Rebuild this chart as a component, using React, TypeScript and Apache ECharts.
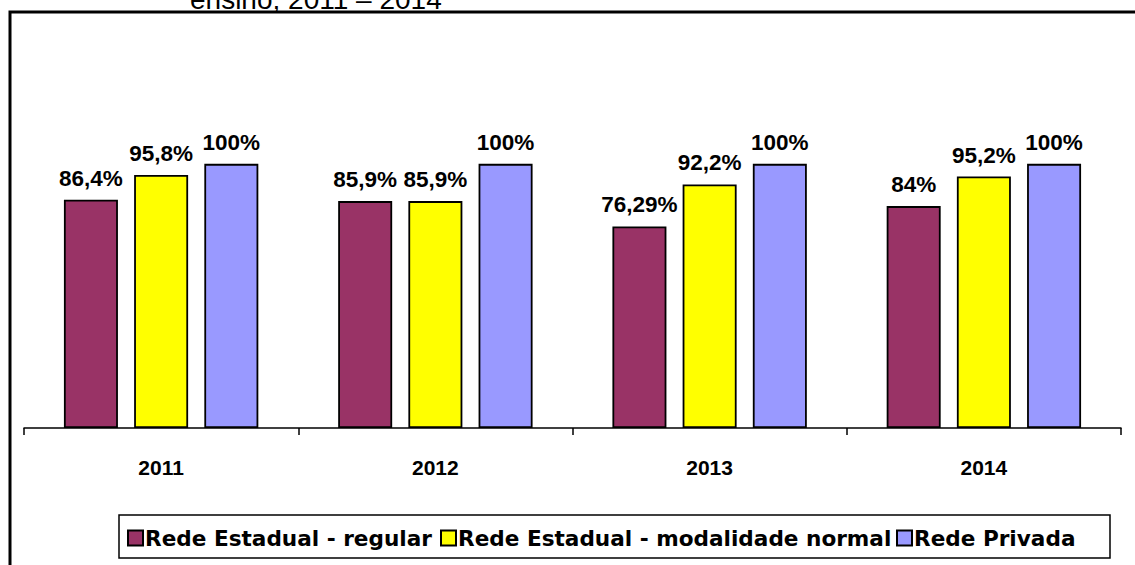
import React, { useEffect, useRef } from "react";
import * as echarts from "echarts";

const categories = ["2011", "2012", "2013", "2014"];
const seriesNames = ["Rede Estadual - regular", "Rede Estadual - modalidade normal", "Rede Privada"];
const regular = [86.4, 85.9, 76.29, 84];
const normal = [95.8, 85.9, 92.2, 95.2];
const privada = [100, 100, 100, 100];
const colors = ["#993366", "#FFFF00", "#9999FF"];
const titleText = "ensino, 2011 – 2014";

const fmt = (v: number) => String(v).replace(".", ",") + "%";
const FONT = "Liberation Sans, Arial, sans-serif";
const WIDE = "DejaVu Sans, Liberation Sans, sans-serif";
const legendLefts = [127, 440, 896];

export default function App() {
  const ref = useRef<HTMLDivElement>(null);
  useEffect(() => {
    const chart = echarts.init(ref.current!, null, { renderer: "svg" });
    const data = [regular, normal, privada];
    chart.setOption({
      animation: false,
      backgroundColor: "#ffffff",
      textStyle: { fontFamily: FONT },
      grid: { left: 24, right: 14, top: 111, bottom: 137, containLabel: false },
      xAxis: {
        type: "category",
        data: categories,
        axisLine: { lineStyle: { color: "#000", width: 1.5 } },
        axisTick: { show: true, alignWithLabel: false, length: 7, lineStyle: { color: "#000", width: 1.5 } },
        axisLabel: { color: "#000", fontWeight: "bold", fontSize: 21, fontFamily: FONT, margin: 29 },
      },
      yAxis: { type: "value", min: 0, max: 120, show: false, splitLine: { show: false } },
      legend: seriesNames.map((name, i) => ({
        top: 527,
        left: legendLefts[i],
        padding: 0,
        itemWidth: 15,
        itemHeight: 15,
        icon: "rect",
        textStyle: { color: "#000", fontWeight: "bold", fontSize: 21.6, fontFamily: WIDE, padding: [0, 0, 0, -3] },
        data: [name],
      })),
      series: seriesNames.map((name, i) => ({
        name,
        type: "bar",
        data: data[i],
        barWidth: 54,
        barGap: "30%",
        itemStyle: { color: colors[i], borderColor: "#000", borderWidth: 1.8 },
        label: {
          show: true,
          position: "top",
          distance: 10,
          color: "#000",
          fontWeight: "bold",
          fontSize: 22.5,
          fontFamily: FONT,
          formatter: (p: any) => fmt(p.value),
        },
      })),
      graphic: [
        {
          type: "rect",
          shape: { x: 10, y: 12, width: 1140, height: 600 },
          style: { fill: "none", stroke: "#000", lineWidth: 3 },
          silent: true,
        },
        {
          type: "rect",
          shape: { x: 119, y: 515, width: 991, height: 43 },
          style: { fill: "none", stroke: "#000", lineWidth: 1.5 },
          silent: true,
        },
        {
          type: "text",
          x: 190,
          y: 13,
          style: {
            text: titleText,
            font: "28px Liberation Sans, Arial, sans-serif",
            fill: "#000",
            verticalAlign: "bottom",
            align: "left",
          },
        },
      ],
    });
    return () => chart.dispose();
  }, []);
  return (
    <div
      ref={ref}
      style={{ position: "fixed", left: 0, top: 0, width: 1135, height: 565 }}
    />
  );
}
